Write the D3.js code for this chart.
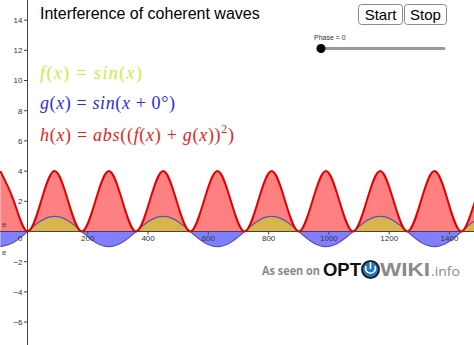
<!DOCTYPE html>
<html><head><meta charset="utf-8">
<script src="https://cdn.jsdelivr.net/npm/d3@7"></script>
<style>
html,body{margin:0;padding:0;background:#fff;overflow:hidden}
svg{display:block}
</style></head>
<body>
<script>
// ---- data (degrees, values) ----
const degrees = [-90,-45,0,45,90,135,180,225,270,315,360,405,450,495,540,585,630,675,720,765,810,855,900,945,990,1035,1080,1125,1170,1215,1260,1305,1350,1395,1440,1485,1530];
const fValues = [-1,-0.71,0,0.71,1,0.71,0,-0.71,-1,-0.71,0,0.71,1,0.71,0,-0.71,-1,-0.71,0,0.71,1,0.71,0,-0.71,-1,-0.71,0,0.71,1,0.71,0,-0.71,-1,-0.71,0,0.71,1];
const gValues = [-1,-0.71,0,0.71,1,0.71,0,-0.71,-1,-0.71,0,0.71,1,0.71,0,-0.71,-1,-0.71,0,0.71,1,0.71,0,-0.71,-1,-0.71,0,0.71,1,0.71,0,-0.71,-1,-0.71,0,0.71,1];
const hValues = [4,2,0,2,4,2,0,2,4,2,0,2,4,2,0,2,4,2,0,2,4,2,0,2,4,2,0,2,4,2,0,2,4,2,0,2,4];
const xTicks = [200,400,600,800,1000,1200,1400];
const yTicks = [-6,-4,-2,2,4,6,8,10,12,14];
const title = "Interference of coherent waves";
const phaseLabel = "Phase = 0";

const W = 474, H = 345;
const svg = d3.select("body").append("svg").attr("width", W).attr("height", H)
  .style("font-family", "'Liberation Sans', Arial, sans-serif");

const x = d3.scaleLinear().domain([0, 1400]).range([27.5, 449.5]);
const y = d3.scaleLinear().domain([0, 14]).range([231.5, 20.1]);

const fData = degrees.map((d, i) => ({d, v: fValues[i]}));
const gData = degrees.map((d, i) => ({d, v: gValues[i]}));
const hData = degrees.map((d, i) => ({d, v: hValues[i]}));

const defs = svg.append("defs");
defs.append("clipPath").attr("id", "above").append("rect")
  .attr("x", 0).attr("y", 0).attr("width", W).attr("height", y(0));
defs.append("clipPath").attr("id", "below").append("rect")
  .attr("x", 0).attr("y", y(0)).attr("width", W).attr("height", H - y(0));

const curve = d3.curveNatural;
const area = d3.area().x(p => x(p.d)).y0(y(0)).y1(p => y(p.v)).curve(curve);
const line = d3.line().x(p => x(p.d)).y(p => y(p.v)).curve(curve);

// h fill
svg.append("path").datum(hData).attr("d", area).attr("fill", "#ff8080");
// f/g fills
svg.append("path").datum(fData).attr("d", area).attr("fill", "#d9b34b").attr("clip-path", "url(#above)");
svg.append("path").datum(fData).attr("d", area).attr("fill", "#8080ff").attr("clip-path", "url(#below)");
// g line
svg.append("path").datum(gData).attr("d", line).attr("fill", "none")
  .attr("stroke", "#5a50b0").attr("stroke-width", 1.1);

// axes
const axCol = "#444";
svg.append("line").attr("x1", 0).attr("x2", W).attr("y1", y(0)).attr("y2", y(0))
  .attr("stroke", axCol).attr("stroke-width", 1);
svg.append("line").attr("x1", x(0)).attr("x2", x(0)).attr("y1", 0).attr("y2", H)
  .attr("stroke", axCol).attr("stroke-width", 1);

// h line on top
svg.append("path").datum(hData).attr("d", line).attr("fill", "none")
  .attr("stroke", "#e00000").attr("stroke-width", 2);

// y ticks
const yt = svg.append("g");
yTicks.forEach(t => {
  yt.append("line").attr("x1", x(0) - 3.5).attr("x2", x(0)).attr("y1", y(t)).attr("y2", y(t))
    .attr("stroke", axCol);
  yt.append("text").attr("x", x(0) - 5).attr("y", y(t) + 2.8).attr("text-anchor", "end")
    .attr("font-size", 8).attr("fill", "#333").text(t < 0 ? "\u2212" + Math.abs(t) : t);
});
// x ticks
const xt = svg.append("g");
xTicks.forEach(t => {
  xt.append("line").attr("x1", x(t)).attr("x2", x(t)).attr("y1", y(0)).attr("y2", y(0) + 3)
    .attr("stroke", axCol);
  xt.append("text").attr("x", x(t)).attr("y", y(0) + 9).attr("text-anchor", "middle")
    .attr("font-size", 8).attr("fill", "#333").text(t);
});
svg.append("text").attr("x", x(0) - 5).attr("y", y(0) + 9).attr("text-anchor", "end")
  .attr("font-size", 8).attr("fill", "#333").text("0");

// "e" labels
svg.append("text").attr("x", 2).attr("y", 227).attr("font-size", 8).attr("fill", "#445").text("e");
svg.append("text").attr("x", 2).attr("y", 255).attr("font-size", 8).attr("fill", "#445").text("e");

// title
svg.append("text").attr("x", 40).attr("y", 18.5).attr("font-size", 16).attr("fill", "#000").text(title);

// buttons
function button(bx, bw, label) {
  svg.append("rect").attr("x", bx + 0.5).attr("y", 4.5).attr("width", bw).attr("height", 20).attr("rx", 3)
    .attr("fill", "#fff").attr("stroke", "#8a8a8a");
  svg.append("text").attr("x", bx + bw / 2 + 0.5).attr("y", 19.5).attr("text-anchor", "middle")
    .attr("font-size", 15).attr("fill", "#000").text(label);
}
button(358, 44, "Start");
button(404, 42, "Stop");

// slider
svg.append("text").attr("x", 314).attr("y", 40).attr("font-size", 7).attr("fill", "#333").text(phaseLabel);
svg.append("line").attr("x1", 320).attr("x2", 444).attr("y1", 48.5).attr("y2", 48.5)
  .attr("stroke", "#999").attr("stroke-width", 3).attr("stroke-linecap", "round");
svg.append("circle").attr("cx", 321).attr("cy", 48.5).attr("r", 4.5).attr("fill", "#000");

// formulas
function formula(yb, color, parts, width) {
  const t = svg.append("text").attr("x", 40).attr("y", yb).attr("fill", color)
    .attr("font-size", 18).style("font-family", "'Liberation Serif', 'Times New Roman', serif");
  parts.forEach(p => {
    const s = t.append("tspan").text(p[0]);
    if (p[1] === "i") s.attr("font-style", "italic");
    if (p[1] === "sup") s.attr("font-size", 12).attr("dy", -8);
    if (p[1] === "down") s.attr("dy", 8);
  });
  t.attr("textLength", width).attr("lengthAdjust", "spacing");
}
formula(78.5, "#c6ee3e", [["f","i"],["(",""],["x","i"],[")",""],[" = ",""],["sin","i"],["(",""],["x","i"],[")",""]], 102);
formula(108.5, "#2c2cdc", [["g","i"],["(",""],["x","i"],[")",""],[" = ",""],["sin","i"],["(",""],["x","i"],[" + 0°)",""]], 135);
formula(140.5, "#e62222", [["h","i"],["(",""],["x","i"],[")",""],[" = ",""],["abs","i"],["((",""],["f","i"],["(",""],["x","i"],[") + ",""],["g","i"],["(",""],["x","i"],["))",""],["2","sup"],[")","down"]], 194);

// watermark
const wm = svg.append("g");
wm.append("text").attr("x", 262).attr("y", 274.5).attr("font-size", 12).attr("font-weight", "bold")
  .attr("textLength", 58).attr("lengthAdjust", "spacingAndGlyphs")
  .attr("fill", "#8a8a8a").style("font-family", "'Open Sans', 'Liberation Sans', sans-serif").text("As seen on");
wm.append("text").attr("x", 323).attr("y", 276).attr("font-size", 18).attr("font-weight", "bold")
  .attr("textLength", 38).attr("lengthAdjust", "spacingAndGlyphs")
  .attr("fill", "#111").style("font-family", "'Liberation Sans', Arial, sans-serif").text("OPT");
wm.append("circle").attr("cx", 370.5).attr("cy", 269.5).attr("r", 8.5).attr("fill", "#1f78c0")
  .attr("stroke", "#222", ).attr("stroke-width", 2);
wm.append("path").attr("d", "M366,266 A5,5 0 1,0 375,266").attr("fill", "none")
  .attr("stroke", "#fff").attr("stroke-width", 1.6);
wm.append("line").attr("x1", 370.5).attr("x2", 370.5).attr("y1", 262).attr("y2", 269)
  .attr("stroke", "#fff").attr("stroke-width", 1.6);
wm.append("text").attr("x", 380).attr("y", 276).attr("font-size", 18).attr("font-weight", "bold")
  .attr("textLength", 50).attr("lengthAdjust", "spacingAndGlyphs")
  .attr("fill", "#8a8a8a").style("font-family", "'Liberation Sans', Arial, sans-serif").text("WIKI");
wm.append("text").attr("x", 431).attr("y", 276).attr("font-size", 13)
  .attr("textLength", 29).attr("lengthAdjust", "spacingAndGlyphs")
  .attr("fill", "#8a8a8a").style("font-family", "'Open Sans', 'Liberation Sans', sans-serif").text(".info");
</script>
</body></html>
